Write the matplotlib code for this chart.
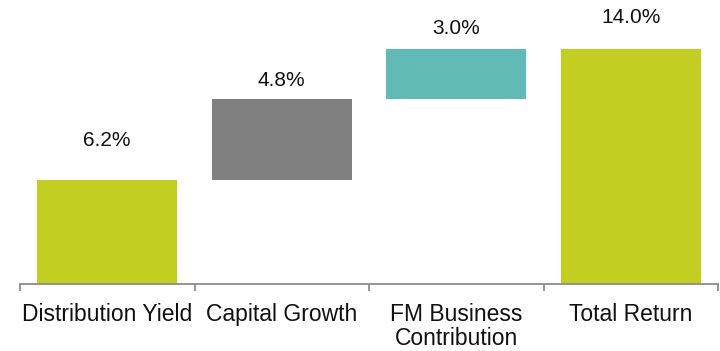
import numpy as np
import matplotlib
matplotlib.use("Agg")
import matplotlib.pyplot as plt

plt.rcParams["font.family"] = ["Liberation Sans", "DejaVu Sans"]

# waterfall components (%), last one is the total
categories = ["Distribution Yield", "Capital Growth", "FM Business\nContribution", "Total Return"]
values = [6.2, 4.8, 3.0, 14.0]
is_total = [False, False, False, True]
value_labels = ["6.2%", "4.8%", "3.0%", "14.0%"]

colors = ["#C3CE23", "#808080", "#62BAB7", "#C3CE23"]
# gap (pixels) between bar top and label baseline
label_gaps = [34, 13, 15, 26]

# floating bars start where the running sum left off; totals start at zero
bottoms = []
running = 0.0
for v, tot in zip(values, is_total):
    if tot:
        bottoms.append(0.0)
    else:
        bottoms.append(running)
        running += v
bottoms = np.array(bottoms)
values = np.array(values)

fig = plt.figure(figsize=(7.2, 3.51), dpi=100)
ax = fig.add_axes([20 / 720, 67 / 351, 698 / 720, 277 / 351])

x = np.arange(len(categories))
ax.bar(x, values, bottom=bottoms, width=0.8, color=colors, linewidth=0)

for xi, top, lab, gap in zip(x, bottoms + values, value_labels, label_gaps):
    ax.annotate(lab, (xi, top), xytext=(0, gap), textcoords="offset pixels",
                ha="center", va="baseline", fontsize=15, color="#111111")

ax.set_xlim(-0.5, len(categories) - 0.5)
ax.set_ylim(0, 16.5)

for side in ["top", "right", "left"]:
    ax.spines[side].set_visible(False)
ax.spines["bottom"].set_color("#8C8C8C")
ax.spines["bottom"].set_linewidth(1.3)
ax.set_yticks([])

# tick marks at the category boundaries, labels at the centres
ax.set_xticks(np.arange(-0.5, len(categories)), minor=False)
ax.set_xticklabels([])
ax.tick_params(axis="x", which="major", direction="out", length=5,
               width=1.3, color="#8C8C8C")
ax.set_xticks(x, minor=True)
ax.set_xticklabels(categories, minor=True, fontsize=16.5, color="#111111",
                   linespacing=1.02)
ax.tick_params(axis="x", which="minor", length=0, pad=14)

fig.savefig("out.png", dpi=100, facecolor="white")
